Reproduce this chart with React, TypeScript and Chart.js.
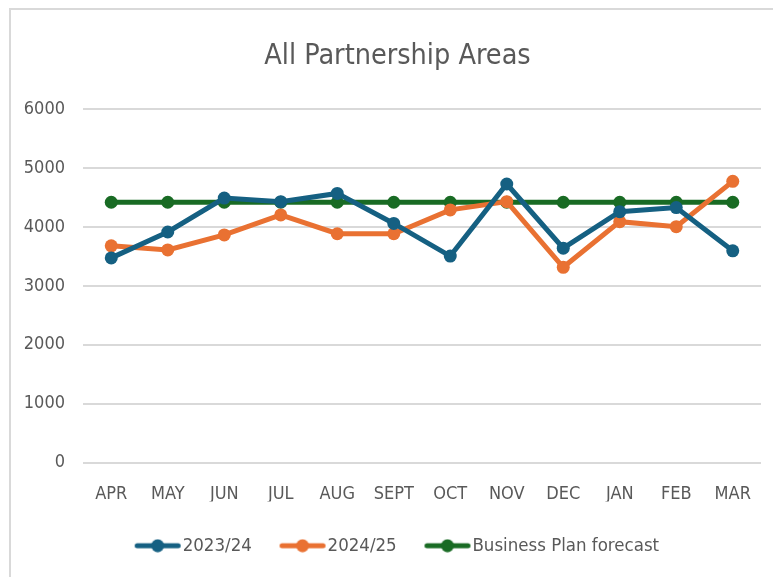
import React, { useEffect, useRef } from "react";
import { Chart, registerables } from "chart.js";

Chart.register(...registerables);

const months = ["APR", "MAY", "JUN", "JUL", "AUG", "SEPT", "OCT", "NOV", "DEC", "JAN", "FEB", "MAR"];
const series2324 = [3475, 3915, 4490, 4430, 4570, 4060, 3505, 4730, 3640, 4260, 4330, 3595];
const series2425 = [3680, 3610, 3865, 4205, 3885, 3885, 4290, 4430, 3315, 4090, 4005, 4775];
const forecast = [4420, 4420, 4420, 4420, 4420, 4420, 4420, 4420, 4420, 4420, 4420, 4420];
const yTicks = [0, 1000, 2000, 3000, 4000, 5000, 6000];

const BLUE = "#156082";
const ORANGE = "#E97132";
const GREEN = "#196B24";
const TEXT = "#595959";
const FONT = "'Liberation Sans Narrow', 'DejaVu Sans Condensed', Roboto, sans-serif";

function legendIcon(color: string) {
  const c = document.createElement("canvas");
  c.width = 50;
  c.height = 14;
  const ctx = c.getContext("2d")!;
  ctx.strokeStyle = color;
  ctx.lineWidth = 5;
  ctx.lineCap = "round";
  ctx.beginPath();
  ctx.moveTo(4.5, 7);
  ctx.lineTo(45.5, 7);
  ctx.stroke();
  ctx.fillStyle = color;
  ctx.beginPath();
  ctx.arc(25, 7, 6.5, 0, Math.PI * 2);
  ctx.fill();
  return c;
}

const framePlugin = {
  id: "frame",
  beforeDraw(chart: any) {
    const ctx = chart.ctx;
    ctx.save();
    ctx.fillStyle = "#ffffff";
    ctx.fillRect(0, 0, chart.width, chart.height);
    ctx.fillStyle = "#d9d9d9";
    ctx.fillRect(9, 8, 2, chart.height - 8);
    ctx.fillRect(9, 8, chart.width - 9, 2);
    ctx.restore();
  },
  afterLayout(chart: any) {
    if (chart.legend) {
      chart.legend.left += 20;
      chart.legend.right += 20;
    }
    if (chart.titleBlock) {
      chart.titleBlock.left += 17;
      chart.titleBlock.right += 17;
    }
  },
};

export default function App() {
  const ref = useRef<HTMLCanvasElement>(null);
  useEffect(() => {
    const icons = [legendIcon(BLUE), legendIcon(ORANGE), legendIcon(GREEN)];
    const mk = (label: string, data: number[], color: string) => ({
      label,
      data,
      borderColor: color,
      backgroundColor: color,
      borderWidth: 5,
      pointRadius: 6.5,
      pointHoverRadius: 6.5,
      pointBorderWidth: 0,
      tension: 0,
    });
    const chart = new Chart(ref.current!, {
      type: "line",
      plugins: [framePlugin],
      data: {
        labels: months,
        datasets: [
          mk("2023/24", series2324, BLUE),
          mk("2024/25", series2425, ORANGE),
          mk("Business Plan forecast", forecast, GREEN),
        ],
      },
      options: {
        animation: false,
        responsive: false,
        maintainAspectRatio: false,
        layout: { padding: { top: 30, left: 0, right: 12, bottom: 12 } },
        plugins: {
          title: {
            display: true,
            text: "All Partnership Areas",
            color: TEXT,
            font: { family: FONT, size: 28.5, weight: "normal" },
            padding: { top: 9, bottom: 36 },
          },
          legend: {
            position: "bottom",
            labels: {
              color: TEXT,
              font: { family: FONT, size: 18.5 },
              usePointStyle: true,
              pointStyleWidth: 31.5,
              padding: 35,
              generateLabels: (ch: any) =>
                ch.data.datasets.map((ds: any, i: number) => ({
                  text: ds.label,
                  fontColor: TEXT,
                  pointStyle: icons[i],
                  datasetIndex: i,
                  hidden: false,
                  lineWidth: 0,
                })),
            },
          },
          tooltip: { enabled: false },
        },
        scales: {
          x: {
            offset: true,
            grid: { display: false, drawTicks: false },
            border: { display: false },
            ticks: { color: TEXT, font: { family: FONT, size: 18 }, padding: 21, maxRotation: 0 },
            afterFit: (s: any) => {
              s.height = 39;
            },
          },
          y: {
            min: 0,
            max: 6000,
            afterBuildTicks: (s: any) => {
              s.ticks = yTicks.map((v) => ({ value: v }));
            },
            grid: { color: "#d9d9d9", lineWidth: 2, drawTicks: false },
            border: { display: false },
            ticks: {
              color: TEXT,
              font: { family: FONT, size: 18 },
              padding: 18,
              callback: (v: any) => String(v),
            },
            afterFit: (s: any) => {
              s.width = 83;
            },
          },
        },
      },
    });
    return () => chart.destroy();
  }, []);
  return (
    <div style={{ position: "absolute", left: 0, top: 0, width: 773, height: 577, overflow: "hidden" }}>
      <canvas ref={ref} width={773} height={577} style={{ display: "block" }} />
    </div>
  );
}
